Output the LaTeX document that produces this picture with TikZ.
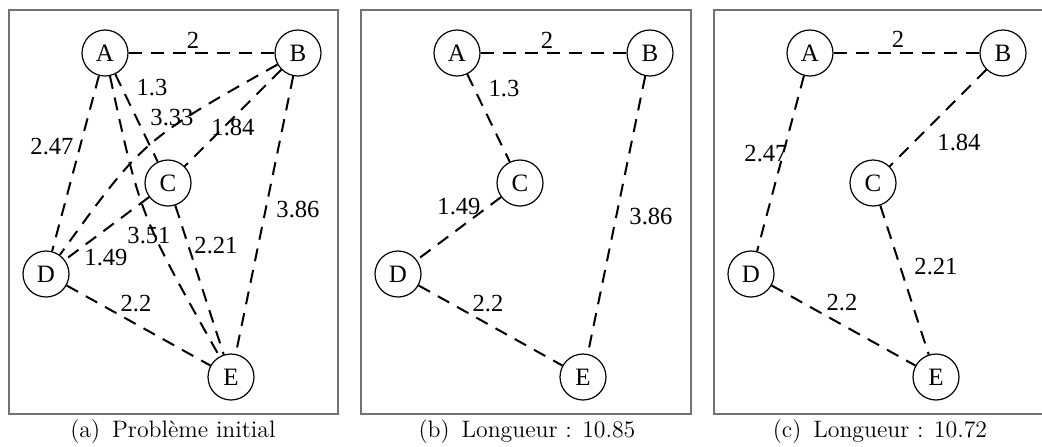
\documentclass[tikz,border=0pt]{standalone}
\usepackage{fontspec}
\newfontfamily\timesfont{Liberation Serif}
\begin{document}
\begin{tikzpicture}[x=0.5pt, y=-0.5pt,
    vertex/.style={draw, circle, line width=0.6pt, minimum size=23pt, inner sep=0pt,
        font=\timesfont\fontsize{12.5}{14}\selectfont},
    road/.style={line width=1pt, dash pattern=on 6.5pt off 4.5pt},
    cost/.style={inner sep=0pt, font=\timesfont\fontsize{12.3}{14}\selectfont},
    frame/.style={draw=black!55, line width=0.6pt},
    legend/.style={font=\fontsize{11.9}{14}\selectfont}]
\clip (0,0) rectangle (1042,446);
% three panels, same towns
\foreach \p/\dx in {a/0,b/352,c/705}{
    \draw[frame] (9+\dx,10) rectangle (338+\dx+\dx/352,414);
    \node[vertex] (\p A) at (105+\dx,53) {A};
    \node[vertex] (\p B) at (298+\dx,53) {B};
    \node[vertex] (\p C) at (168+\dx,183) {C};
    \node[vertex] (\p D) at (46+\dx,274) {D};
    \node[vertex] (\p E) at (231+\dx,377) {E};
}
% (a) all the roads
\draw[road] (aA)--(aB);
\draw[road] (aA)--(aC);
\draw[road] (aA)--(aD);
\draw[road] (aA) .. controls (140,215) .. (aE);
\draw[road] (aB)--(aC);
\draw[road] (aB) .. controls (143,140) .. (aD);
\draw[road] (aB)--(aE);
\draw[road] (aC)--(aD);
\draw[road] (aC)--(aE);
\draw[road] (aD)--(aE);
\node[cost] (aAB) at (193,40) {2};
\node[cost] (aAC) at (152,88) {1.3};
\node[cost] (aBD) at (172,118) {3.33};
\node[cost] (aBC) at (233,127) {1.84};
\node[cost] (aAD) at (52,147) {2.47};
\node[cost] (aBE) at (298,209) {3.86};
\node[cost] (aAE) at (149,236) {3.51};
\node[cost] (aCE) at (216,246) {2.21};
\node[cost] (aCD) at (106,258) {1.49};
\node[cost] (aDE) at (136,304) {2.2};
\node[legend] (aCap) at (173,432) {(a)\enskip Problème initial};
% (b) first tour
\draw[road] (bA)--(bB);
\draw[road] (bA)--(bC);
\draw[road] (bC)--(bD);
\draw[road] (bD)--(bE);
\draw[road] (bB)--(bE);
\node[cost] (bAB) at (547,40) {2};
\node[cost] (bAC) at (504,89) {1.3};
\node[cost] (bCD) at (459,207) {1.49};
\node[cost] (bBE) at (651,216) {3.86};
\node[cost] (bDE) at (488,304) {2.2};
\node[legend] (bCap) at (527,432) {(b)\enskip Longueur : 10.85};
% (c) better tour
\draw[road] (cA)--(cB);
\draw[road] (cA)--(cD);
\draw[road] (cB)--(cC);
\draw[road] (cC)--(cE);
\draw[road] (cD)--(cE);
\node[cost] (cAB) at (898,39) {2};
\node[cost] (cAD) at (766,154) {2.47};
\node[cost] (cBC) at (959,142) {1.84};
\node[cost] (cCE) at (936,267) {2.21};
\node[cost] (cDE) at (842,303) {2.2};
\node[legend] (cCap) at (880,432) {(c)\enskip Longueur : 10.72};
\end{tikzpicture}
\end{document}
